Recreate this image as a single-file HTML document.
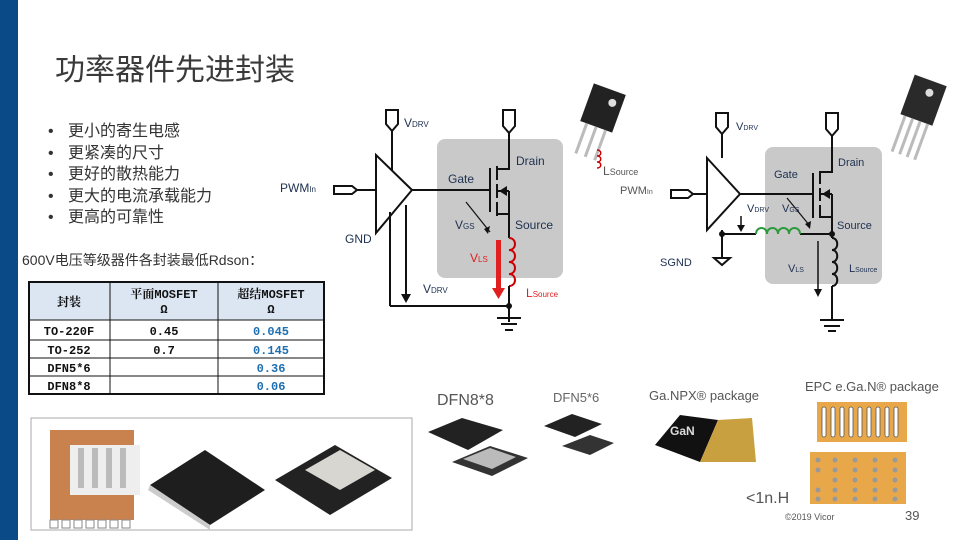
<!DOCTYPE html>
<html><head><meta charset="utf-8"><style>
body{margin:0;background:#fff;}
svg{display:block;font-family:"Liberation Sans","Noto Sans CJK SC",sans-serif;}
.cn{font-family:"Liberation Sans","Noto Sans CJK SC",sans-serif;}
.tb{font-family:"Liberation Mono","Noto Serif CJK SC",monospace;font-weight:bold;font-size:12px;}
</style></head><body>
<svg width="960" height="540" viewBox="0 0 960 540" xmlns="http://www.w3.org/2000/svg">
<rect x="0" y="0" width="18" height="540" fill="#0a4a86"/>
<text x="55" y="80" font-size="30" fill="#3a3a3a" class="cn">功率器件先进封装</text>
<g font-size="16" fill="#333" class="cn">
<text x="48" y="136">•</text><text x="68" y="136">更小的寄生电感</text>
<text x="48" y="158">•</text><text x="68" y="158">更紧凑的尺寸</text>
<text x="48" y="179">•</text><text x="68" y="179">更好的散热能力</text>
<text x="48" y="201">•</text><text x="68" y="201">更大的电流承载能力</text>
<text x="48" y="222">•</text><text x="68" y="222">更高的可靠性</text>
</g>
<text x="22" y="265" font-size="14" fill="#333" class="cn">600V电压等级器件各封装最低Rdson：</text>
<rect x="29" y="282" width="295" height="38" fill="#dce6f2"/>
<g stroke="#111" fill="none">
<rect x="29" y="282" width="295" height="112" stroke-width="2"/>
<line x1="110" y1="282" x2="110" y2="394"/><line x1="218" y1="282" x2="218" y2="394"/>
<line x1="29" y1="320" x2="324" y2="320"/><line x1="29" y1="340" x2="324" y2="340"/>
<line x1="29" y1="358" x2="324" y2="358"/><line x1="29" y1="376" x2="324" y2="376"/>
</g>
<g class="tb" text-anchor="middle" fill="#111">
<text x="69" y="306">封装</text>
<text x="164" y="298">平面MOSFET</text><text x="164" y="313">Ω</text>
<text x="271" y="298">超结MOSFET</text><text x="271" y="313">Ω</text>
<text x="69" y="335">TO-220F</text><text x="69" y="354">TO-252</text><text x="69" y="372">DFN5*6</text><text x="69" y="390">DFN8*8</text>
<text x="164" y="335">0.45</text><text x="164" y="354">0.7</text>
<g fill="#1f6fb0"><text x="271" y="335">0.045</text><text x="271" y="354">0.145</text><text x="271" y="372">0.36</text><text x="271" y="390">0.06</text></g>
</g>
<rect x="437" y="139" width="126" height="139" rx="8" fill="#c9c9c9"/>
<g stroke="#111" stroke-width="2" fill="none">
<polygon points="376,155 412,190 376,233" fill="#fff"/>
<path d="M386,110 h12 v14 l-6,7 l-6,-7 z"/><line x1="392" y1="131" x2="392" y2="171"/>
<path d="M334,186 h18 l5,4 l-5,4 h-18 z"/><line x1="357" y1="190" x2="376" y2="190"/>
<line x1="412" y1="190" x2="490" y2="190"/>
<line x1="490" y1="168" x2="490" y2="212"/>
<line x1="497" y1="166" x2="497" y2="180"/><line x1="497" y1="184" x2="497" y2="198"/><line x1="497" y1="202" x2="497" y2="216"/>
<path d="M497,169 h12 v-36"/><path d="M503,110 h12 v16 l-6,7 l-6,-7 z"/>
<path d="M497,191 h12 M497,214 h12 v24"/>
<line x1="509" y1="191" x2="509" y2="214"/>
<path d="M509,238 c8,0 8,12 0,12 c8,0 8,12 0,12 c8,0 8,12 0,12 c8,0 8,12 0,12" stroke="#c00"/>
<line x1="509" y1="286" x2="509" y2="322"/>
<line x1="390" y1="212" x2="390" y2="306"/><line x1="390" y1="306" x2="509" y2="306"/>
<line x1="406" y1="205" x2="406" y2="296"/>
<line x1="497" y1="318" x2="521" y2="318"/><line x1="501" y1="324" x2="517" y2="324"/><line x1="505" y1="330" x2="513" y2="330"/>
<line x1="466" y1="202" x2="490" y2="232" stroke-width="1.2"/>
</g>
<polygon points="401,294 411,294 406,303" fill="#111"/>
<polygon points="499,191 507,186 507,196" fill="#111"/>
<polygon points="488,234 490,226 484,229" fill="#111"/>
<circle cx="509" cy="306" r="3" fill="#111"/>
<rect x="496" y="240" width="5" height="50" fill="#e02020"/><polygon points="492,288 505,288 498.5,299" fill="#e02020"/>
<g font-size="12" fill="#1e3050">
<text x="404" y="127">V<tspan font-size="8">DRV</tspan></text>
<text x="516" y="165">Drain</text><text x="448" y="183">Gate</text>
<text x="455" y="229">V<tspan font-size="8">GS</tspan></text><text x="515" y="229">Source</text>
<text x="345" y="243">GND</text><text x="280" y="192">PWM<tspan font-size="8">In</tspan></text>
<text x="423" y="293">V<tspan font-size="8">DRV</tspan></text>
</g>
<g font-size="12" fill="#e02020"><text x="470" y="262">V<tspan font-size="8">LS</tspan></text><text x="526" y="297">L<tspan font-size="8">Source</tspan></text></g>
<g transform="rotate(20 600 125)"><rect x="580" y="88" width="34" height="40" fill="#222"/><circle cx="604" cy="100" r="4" fill="#ddd"/>
<g stroke="#bbb" stroke-width="3"><line x1="587" y1="128" x2="587" y2="160"/><line x1="597" y1="128" x2="597" y2="160"/><line x1="607" y1="128" x2="607" y2="160"/></g></g>
<path d="M597,150 c5,0 5,6 0,6 c5,0 5,6 0,6 c5,0 5,6 0,6" stroke="#c00" fill="none" stroke-width="1.5"/>
<text x="603" y="175" font-size="12" fill="#555">L<tspan font-size="9">Source</tspan></text>
<text x="620" y="194" font-size="11" fill="#555">PWM<tspan font-size="7">In</tspan></text>
<rect x="765" y="147" width="117" height="137" rx="8" fill="#c9c9c9"/>
<g stroke="#111" stroke-width="2" fill="none">
<polygon points="707,158 740,194 707,230" fill="#fff"/>
<path d="M716,113 h12 v14 l-6,7 l-6,-7 z"/><line x1="722" y1="134" x2="722" y2="158"/>
<path d="M671,190 h17 l5,4 l-5,4 h-17 z"/><line x1="693" y1="194" x2="707" y2="194"/>
<line x1="740" y1="194" x2="813" y2="194"/>
<line x1="813" y1="173" x2="813" y2="218"/>
<line x1="820" y1="171" x2="820" y2="184"/><line x1="820" y1="188" x2="820" y2="201"/><line x1="820" y1="205" x2="820" y2="218"/>
<path d="M820,172 h12 v-36"/><path d="M826,113 h12 v16 l-6,7 l-6,-7 z"/>
<path d="M820,194 h12 M820,217 h12 v21"/><line x1="832" y1="194" x2="832" y2="217"/>
<line x1="722" y1="230" x2="722" y2="258"/>
<polygon points="714,258 730,258 722,265"/>
<path d="M722,234 h34 M800,234 h32"/>
<path d="M756,234 c0,-8 11,-8 11,0 c0,-8 11,-8 11,0 c0,-8 11,-8 11,0 c0,-8 11,-8 11,0" stroke="#2a9a3a"/>
<path d="M832,238 c7,0 7,12 0,12 c7,0 7,12 0,12 c7,0 7,12 0,12 c7,0 7,12 0,12" />
<line x1="832" y1="286" x2="832" y2="320"/>
<line x1="820" y1="320" x2="844" y2="320"/><line x1="824" y1="326" x2="840" y2="326"/><line x1="828" y1="331" x2="836" y2="331"/>
<line x1="741" y1="216" x2="741" y2="226" stroke-width="1.5"/>
<line x1="818" y1="241" x2="818" y2="290" stroke-width="1.5"/>
<line x1="787" y1="198" x2="810" y2="226" stroke-width="1.2"/>
</g>
<circle cx="722" cy="234" r="3" fill="#111"/><circle cx="832" cy="234" r="3" fill="#111"/>
<polygon points="822,194 830,189 830,199" fill="#111"/>
<polygon points="737,225 745,225 741,232" fill="#111"/>
<polygon points="814,289 822,289 818,297" fill="#111"/>
<polygon points="810,229 811,221 805,224" fill="#111"/>
<g font-size="11" fill="#1e3050">
<text x="736" y="130">V<tspan font-size="7">DRV</tspan></text>
<text x="838" y="166">Drain</text><text x="774" y="178">Gate</text>
<text x="747" y="212">V<tspan font-size="7">DRV</tspan></text><text x="782" y="212">V<tspan font-size="7">GS</tspan></text>
<text x="837" y="229">Source</text><text x="660" y="266">SGND</text>
<text x="788" y="272">V<tspan font-size="7">LS</tspan></text><text x="849" y="272">L<tspan font-size="7">Source</tspan></text>
</g>
<g transform="rotate(20 925 105)"><rect x="905" y="80" width="34" height="42" fill="#2a2a2a"/><circle cx="925" cy="92" r="4" fill="#ddd"/>
<g stroke="#bbb" stroke-width="3"><line x1="910" y1="122" x2="910" y2="160"/><line x1="918" y1="122" x2="918" y2="160"/><line x1="926" y1="122" x2="926" y2="160"/><line x1="934" y1="122" x2="934" y2="160"/></g></g>
<rect x="31" y="418" width="381" height="112" fill="#fff" stroke="#aaa"/>
<rect x="50" y="430" width="84" height="90" fill="#c9824e"/>
<rect x="70" y="445" width="70" height="50" fill="#eee"/>
<g fill="#bbb"><rect x="78" y="448" width="6" height="40"/><rect x="92" y="448" width="6" height="40"/><rect x="106" y="448" width="6" height="40"/><rect x="120" y="448" width="6" height="40"/></g>
<g stroke="#888" fill="#fff"><rect x="50" y="520" width="8" height="8"/><rect x="62" y="520" width="8" height="8"/><rect x="74" y="520" width="8" height="8"/><rect x="86" y="520" width="8" height="8"/><rect x="98" y="520" width="8" height="8"/><rect x="110" y="520" width="8" height="8"/><rect x="122" y="520" width="8" height="8"/></g>
<polygon points="150,485 205,450 265,490 210,525" fill="#1e1e1e"/>
<polygon points="150,485 210,525 210,530 148,490" fill="#ccc"/>
<polygon points="275,480 335,445 392,478 330,515" fill="#222"/>
<polygon points="305,470 340,450 375,470 340,490" fill="#d8d6d0"/>
<text x="437" y="405" font-size="16" fill="#555">DFN8*8</text>
<polygon points="428,432 462,418 503,430 468,450" fill="#222"/>
<polygon points="452,462 490,446 528,458 492,476" fill="#333"/><polygon points="463,459 490,448 516,457 492,469" fill="#bbb"/>
<text x="553" y="402" font-size="13" fill="#666">DFN5*6</text>
<polygon points="544,426 572,414 602,424 575,437" fill="#222"/>
<polygon points="562,446 590,435 614,443 590,455" fill="#333"/>
<text x="649" y="400" font-size="13" fill="#555">Ga.NPX® package</text>
<polygon points="655,445 680,415 718,420 700,462" fill="#111"/>
<polygon points="718,420 752,418 756,462 700,462" fill="#c8a040"/>
<text x="670" y="435" font-size="12" fill="#ddd" font-weight="bold">GaN</text>
<text x="805" y="391" font-size="13" fill="#555">EPC e.Ga.N® package</text>
<rect x="817" y="402" width="90" height="40" fill="#e8a84a"/>
<g fill="#fff" stroke="#555" stroke-width="0.8"><rect x="822" y="407" width="4" height="30" rx="2"/><rect x="831" y="407" width="4" height="30" rx="2"/><rect x="840" y="407" width="4" height="30" rx="2"/><rect x="849" y="407" width="4" height="30" rx="2"/><rect x="858" y="407" width="4" height="30" rx="2"/><rect x="867" y="407" width="4" height="30" rx="2"/><rect x="876" y="407" width="4" height="30" rx="2"/><rect x="885" y="407" width="4" height="30" rx="2"/><rect x="894" y="407" width="4" height="30" rx="2"/></g>
<rect x="810" y="452" width="96" height="52" fill="#e8a84a"/>
<g fill="#999">
<circle cx="818" cy="460" r="2.5"/><circle cx="835" cy="460" r="2.5"/><circle cx="855" cy="460" r="2.5"/><circle cx="875" cy="460" r="2.5"/><circle cx="895" cy="460" r="2.5"/>
<circle cx="818" cy="470" r="2.5"/><circle cx="835" cy="470" r="2.5"/><circle cx="855" cy="470" r="2.5"/><circle cx="875" cy="470" r="2.5"/><circle cx="895" cy="470" r="2.5"/>
<circle cx="835" cy="480" r="2.5"/><circle cx="855" cy="480" r="2.5"/><circle cx="875" cy="480" r="2.5"/><circle cx="895" cy="480" r="2.5"/>
<circle cx="818" cy="490" r="2.5"/><circle cx="835" cy="490" r="2.5"/><circle cx="855" cy="490" r="2.5"/><circle cx="875" cy="490" r="2.5"/><circle cx="895" cy="490" r="2.5"/>
<circle cx="818" cy="499" r="2.5"/><circle cx="835" cy="499" r="2.5"/><circle cx="855" cy="499" r="2.5"/><circle cx="875" cy="499" r="2.5"/><circle cx="895" cy="499" r="2.5"/>
</g>
<text x="746" y="503" font-size="16" fill="#555">&lt;1n.H</text>
<text x="785" y="520" font-size="9" fill="#555">©2019 Vicor</text>
<text x="905" y="520" font-size="13" fill="#555">39</text>
</svg>
</body></html>
